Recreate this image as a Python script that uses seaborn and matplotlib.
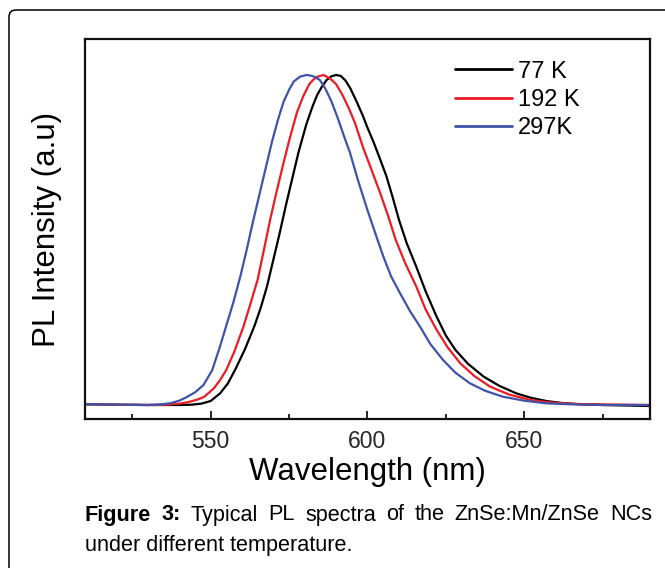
import numpy as np
import pandas as pd
import matplotlib
matplotlib.use("Agg")
import matplotlib.pyplot as plt
from matplotlib.patches import FancyBboxPatch
from matplotlib.ticker import MultipleLocator
from matplotlib.lines import Line2D
import seaborn as sns

# ---- data ----
wl_77 = [510, 520, 530, 540, 544, 547, 550, 553, 555.5, 558, 561, 564, 566, 568, 570, 572, 574, 576,
         578, 580.5, 582.5, 584, 585.5, 587, 588.5, 590, 591.5, 593, 594.5, 596.5, 598.5, 600, 602,
         604, 606, 608, 610, 612.5, 615.5, 618.5, 622, 625, 628, 632, 637, 642, 647.5, 652, 657,
         662, 668, 675, 690]
int_77 = [0.002, 0.001, 0.0, 0.0, 0.001, 0.004, 0.012, 0.035, 0.065, 0.11, 0.17, 0.24, 0.295, 0.36,
          0.44, 0.52, 0.605, 0.685, 0.765, 0.85, 0.905, 0.94, 0.965, 0.985, 0.996, 1.0, 0.997, 0.983,
          0.96, 0.92, 0.877, 0.84, 0.795, 0.745, 0.694, 0.63, 0.562, 0.49, 0.42, 0.345, 0.268, 0.21,
          0.167, 0.125, 0.086, 0.058, 0.035, 0.022, 0.012, 0.006, 0.002, 0.0, -0.003]

wl_192 = [510, 520, 530, 536, 540, 543, 546, 548, 551, 553, 555, 557.5, 560.5, 562.5, 565, 567, 569,
          571, 573, 575, 577.5, 579.5, 581.5, 583.5, 586, 588, 590, 592, 594, 596, 598.6, 601, 604,
          606.5, 609, 612, 615.5, 618.5, 622, 625.5, 629.5, 634, 639, 645, 652, 659, 667, 690]
int_192 = [0.003, 0.001, 0.0, 0.001, 0.004, 0.009, 0.017, 0.025, 0.05, 0.075, 0.106, 0.16, 0.238, 0.3,
           0.38, 0.47, 0.562, 0.645, 0.724, 0.8, 0.886, 0.935, 0.973, 0.993, 1.0, 0.99, 0.972, 0.94,
           0.9, 0.855, 0.78, 0.72, 0.643, 0.575, 0.5, 0.43, 0.36, 0.29, 0.228, 0.175, 0.127, 0.088,
           0.056, 0.032, 0.015, 0.007, 0.003, 0.0]

wl_297 = [510, 520, 530, 534, 537, 540, 542, 545, 547.7, 550.5, 553, 555, 557.2, 559.5, 561.5, 563.5,
          565.7, 567.5, 569.5, 571.5, 573.2, 575, 576.5, 578.5, 580.6, 582.5, 584.8, 586.5, 588.5,
          590.5, 592.5, 594.4, 597, 600, 602.5, 605, 607.5, 610.3, 613.5, 616.7, 620, 624, 628,
          632.6, 637.5, 643.2, 650, 657, 665, 675, 690]
int_297 = [0.003, 0.001, 0.0, 0.002, 0.005, 0.013, 0.022, 0.038, 0.06, 0.105, 0.177, 0.24, 0.309, 0.39,
           0.47, 0.555, 0.643, 0.715, 0.795, 0.865, 0.917, 0.955, 0.98, 0.995, 1.0, 0.997, 0.985,
           0.96, 0.92, 0.87, 0.815, 0.765, 0.68, 0.59, 0.52, 0.451, 0.39, 0.34, 0.285, 0.238, 0.185,
           0.137, 0.098, 0.066, 0.043, 0.025, 0.013, 0.005, 0.002, 0.0, 0.0]

series_labels = ["77 K", "192 K", "297K"]
series_colors = ["#000000", "#ed1c24", "#3f54a8"]
x_ticks = [550, 600, 650]
x_label = "Wavelength (nm)"
y_label = "PL Intensity (a.u)"
caption_line1_bold = ["Figure", "3:"]
caption_line1 = ["Typical", "PL", "spectra", "of", "the", "ZnSe:Mn/ZnSe", "NCs"]
caption_line2 = "under different temperature."

df = pd.concat([
    pd.DataFrame({"wl": wl_77, "I": int_77, "T": series_labels[0]}),
    pd.DataFrame({"wl": wl_192, "I": int_192, "T": series_labels[1]}),
    pd.DataFrame({"wl": wl_297, "I": int_297, "T": series_labels[2]}),
], ignore_index=True)

sns.set_theme(style="white")
plt.rcParams["font.family"] = ["Liberation Sans", "DejaVu Sans"]

W, H = 665, 568
fig = plt.figure(figsize=(W / 100, H / 100), dpi=100)
ax = fig.add_axes([85 / W, 1 - 419 / H, (650 - 85) / W, (419 - 39) / H])

palette = dict(zip(series_labels, series_colors))
sns.lineplot(data=df, x="wl", y="I", hue="T", hue_order=series_labels,
             palette=palette, linewidth=1.6, ax=ax, legend=False, sort=True,
             estimator=None)

ax.set_xlim(510, 690)
ax.set_ylim(-0.0424, 1.109)
ax.set_xticks(x_ticks)
ax.xaxis.set_minor_locator(MultipleLocator(25))
ax.set_yticks([])
ax.tick_params(axis="x", which="major", direction="in", length=6, width=1.2,
               color="black", labelsize=16.5, pad=8, bottom=True, top=False)
ax.tick_params(axis="x", which="minor", direction="in", length=3.5, width=1.2,
               color="black", bottom=True, top=False)
for sp in ax.spines.values():
    sp.set_visible(True)
    sp.set_color("#111111")
    sp.set_linewidth(1.6)

ax.set_xlabel(x_label, fontsize=22.5, labelpad=3, color="black")
ax.set_ylabel(y_label, fontsize=22.5, labelpad=16.5, color="black")

# legend
handles = [Line2D([], [], color=c, linewidth=2.0) for c in series_colors]
leg = ax.legend(handles, series_labels, loc="upper left",
                bbox_to_anchor=(0.655, 0.943), frameon=False, fontsize=17,
                handlelength=2.4, handletextpad=0.28, labelspacing=0.27,
                borderpad=0, borderaxespad=0)
for t in leg.get_texts():
    t.set_color("black")

# outer rounded frame
frame = FancyBboxPatch((9, -30), W + 40, H - 10 + 30,
                       boxstyle="round,pad=0,rounding_size=7",
                       facecolor="none", edgecolor="black", linewidth=1.1)
fig.add_artist(frame)
frame.set_transform(matplotlib.transforms.IdentityTransform())

# caption
cap_font = ["Liberation Sans", "DejaVu Sans"]
cap_size = 15.6
y1 = 1 - 515 / H
y2 = 1 - 545 / H
words = []
for w in caption_line1_bold:
    words.append(fig.text(0, y1, w, fontsize=cap_size, fontweight="bold",
                          family=cap_font, va="center", ha="left", color="black"))
for w in caption_line1:
    words.append(fig.text(0, y1, w, fontsize=cap_size, family=cap_font,
                          va="center", ha="left", color="black"))
fig.text(85 / W, y2, caption_line2, fontsize=cap_size, family=cap_font,
         va="center", ha="left", color="black")

fig.canvas.draw()
renderer = fig.canvas.get_renderer()
widths = [t.get_window_extent(renderer).width for t in words]
left, right = 85, 652
gap = (right - left - sum(widths)) / (len(words) - 1)
x = left
for t, wdt in zip(words, widths):
    t.set_x(x / W)
    x += wdt + gap

fig.savefig("out.png", dpi=100)
